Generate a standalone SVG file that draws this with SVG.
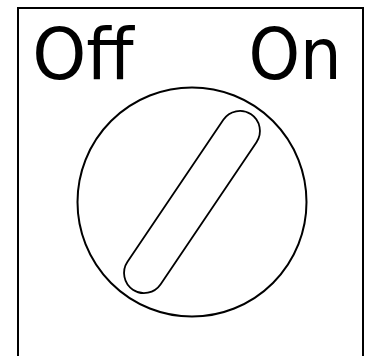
<svg xmlns="http://www.w3.org/2000/svg" width="365" height="356" viewBox="0 0 365 356">
<style>
.ln{fill:none;stroke:#000;stroke-width:2}
.lbl{font-family:"DejaVu Sans",sans-serif;font-size:72px;fill:#000}
</style>
<rect width="365" height="356" fill="#fff"/>
<g id="panel"><rect class="ln" x="18" y="8" width="345" height="360"/></g>
<g id="labels">
<text class="lbl" x="32.2" y="79" textLength="101.5" lengthAdjust="spacingAndGlyphs">Off</text>
<text class="lbl" x="248.4" y="79" textLength="93.2" lengthAdjust="spacingAndGlyphs">On</text>
</g>
<g id="knob">
<circle class="ln" cx="192" cy="202" r="114.5"/>
<rect class="ln" transform="translate(192,202) rotate(-56)" x="-105.7" y="-20" width="211.4" height="40" rx="20" ry="20" style="stroke-width:1.8"/>
</g>
</svg>
